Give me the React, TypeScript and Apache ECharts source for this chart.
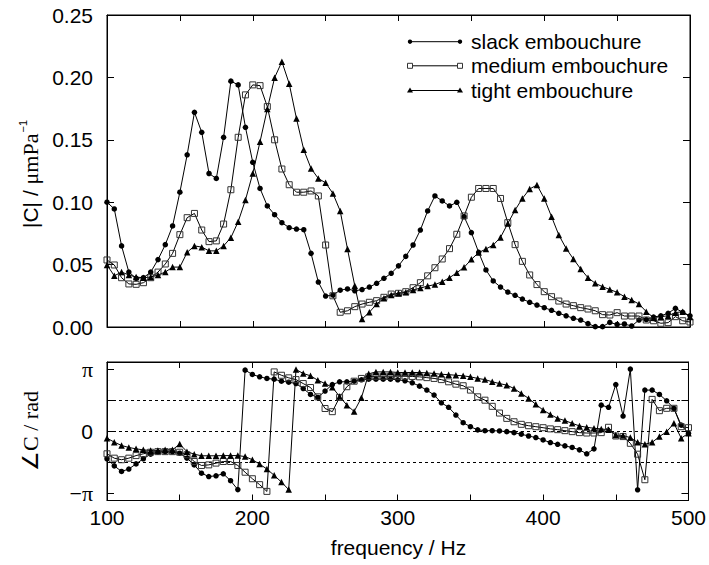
import React, { useEffect, useRef } from 'react';
import * as echarts from 'echarts';

const frequency = [
  100, 105, 110, 115, 120, 125, 130, 135, 140, 145,
  150, 155, 160, 165, 170, 175, 180, 185, 190, 195,
  200, 205, 210, 215, 220, 225, 230, 235, 240, 245,
  250, 255, 260, 265, 270, 275, 280, 285, 290, 295,
  300, 305, 310, 315, 320, 325, 330, 335, 340, 345,
  350, 355, 360, 365, 370, 375, 380, 385, 390, 395,
  400, 405, 410, 415, 420, 425, 430, 435, 440, 445,
  450, 455, 460, 465, 470, 475, 480, 485, 490, 495,
  500,
];

const slackMagnitude = [
  0.100, 0.0946, 0.065, 0.044, 0.039, 0.0395, 0.044, 0.054, 0.066, 0.081,
  0.108, 0.138, 0.172, 0.156, 0.123, 0.119, 0.152, 0.197, 0.194, 0.160,
  0.132, 0.111, 0.097, 0.090, 0.0836, 0.0796, 0.0785, 0.078, 0.059, 0.036,
  0.0248, 0.0256, 0.0295, 0.0305, 0.029, 0.030, 0.032, 0.035, 0.039, 0.043,
  0.049, 0.0566, 0.0657, 0.0777, 0.093, 0.105, 0.101, 0.097, 0.0999, 0.0884,
  0.0756, 0.0598, 0.0457, 0.0369, 0.032, 0.028, 0.0254, 0.0224, 0.0198, 0.0176,
  0.0155, 0.0134, 0.011, 0.009, 0.007, 0.0056, 0.0027, 0.0003, 0.0003, 0.0037,
  0.002, 0.0024, 0.0008, 0.0056, 0.006, 0.008, 0.009, 0.011, 0.015, 0.0118,
  0.009,
];

const mediumMagnitude = [
  0.0537, 0.0497, 0.0395, 0.0345, 0.0342, 0.0355, 0.0395, 0.044, 0.0505, 0.059,
  0.074, 0.0876, 0.091, 0.0777, 0.0684, 0.069, 0.0825, 0.110, 0.152, 0.186,
  0.194, 0.1934, 0.1766, 0.150, 0.1266, 0.114, 0.108, 0.108, 0.109, 0.105,
  0.0657, 0.025, 0.0118, 0.013, 0.0163, 0.0184, 0.0198, 0.0211, 0.0238, 0.0264,
  0.027, 0.0283, 0.0315, 0.0355, 0.041, 0.0475, 0.0545, 0.0628, 0.0743, 0.089,
  0.104, 0.111, 0.111, 0.111, 0.103, 0.0836, 0.066, 0.0526, 0.0417, 0.034,
  0.0283, 0.0243, 0.0208, 0.0184, 0.0171, 0.0155, 0.0144, 0.013, 0.0099, 0.0096,
  0.0115, 0.0088, 0.0088, 0.0088, 0.0056, 0.005, 0.003, 0.0035, 0.0083, 0.005,
  0.004,
];

const tightMagnitude = [
  0.0497, 0.041, 0.044, 0.0417, 0.040, 0.0395, 0.040, 0.0417, 0.044, 0.048,
  0.048, 0.0598, 0.065, 0.064, 0.061, 0.061, 0.065, 0.0716, 0.0844, 0.1018,
  0.123, 0.1485, 0.1747, 0.1998, 0.2126, 0.195, 0.167, 0.142, 0.127, 0.119,
  0.1155, 0.107, 0.093, 0.0625, 0.033, 0.0064, 0.0118, 0.0184, 0.023, 0.0256,
  0.027, 0.0278, 0.0296, 0.0312, 0.0328, 0.034, 0.0363, 0.0395, 0.0435, 0.0478,
  0.0542, 0.0596, 0.0625, 0.0657, 0.0718, 0.083, 0.0937, 0.103, 0.1106, 0.1138,
  0.103, 0.0884, 0.0737, 0.063, 0.0545, 0.0465, 0.0395, 0.035, 0.0323, 0.030,
  0.0278, 0.0243, 0.0216, 0.0184, 0.0123, 0.0075, 0.0083, 0.009, 0.0115, 0.0123,
  0.008,
];

// phase in radians
const slackPhase = [
  -1.39, -1.75, -2.03, -1.91, -1.65, -1.39, -1.16, -1.06, -1.03, -1.04,
  -1.11, -1.36, -1.70, -2.12, -2.29, -2.25, -2.15, -2.50, -2.95, 3.09,
  2.87, 2.75, 2.67, 2.63, 2.53, 2.48, 2.41, 2.16, 1.86, 1.71,
  2.03, 2.36, 2.50, 2.50, 2.53, 2.60, 2.63, 2.63, 2.63, 2.63,
  2.60, 2.55, 2.45, 2.28, 2.08, 1.83, 1.44, 1.21, 0.82, 0.43,
  0.23, 0.07, 0.03, 0.03, 0.015, -0.02, -0.07, -0.15, -0.24, -0.32,
  -0.44, -0.57, -0.66, -0.74, -0.82, -0.94, -1.14, -0.89, 1.32, 1.21,
  2.36, 0.77, 3.14, -2.96, 2.08, 2.08, 1.86, 1.54, 1.15, 0.31,
  -0.1,
];

const mediumPhase = [
  -1.14, -1.36, -1.44, -1.36, -1.23, -1.14, -1.06, -1.03, -1.03, -1.03,
  -1.06, -1.19, -1.53, -1.73, -1.70, -1.61, -1.53, -1.53, -1.73, -2.07,
  -2.40, -2.70, -3.04, 3.00, 2.83, 2.70, 2.61, 2.41, 2.21, 1.74,
  1.15, 0.99, 1.71, 2.25, 2.53, 2.67, 2.75, 2.78, 2.78, 2.78,
  2.78, 2.78, 2.77, 2.75, 2.71, 2.67, 2.61, 2.50, 2.38, 2.30,
  2.08, 1.74, 1.57, 1.26, 0.92, 0.65, 0.48, 0.35, 0.28, 0.23,
  0.18, 0.12, 0.08, 0.03, -0.02, -0.07, -0.09, -0.09, -0.07, 0.20,
  -0.24, -0.27, -0.61, -1.16, -2.45, 1.61, 1.04, 1.16, 1.16, 0.23,
  0.18,
];

const tightPhase = [
  -0.35, -0.55, -0.72, -0.82, -0.89, -0.94, -0.97, -0.97, -0.94, -0.94,
  -0.65, -1.03, -1.16, -1.24, -1.24, -1.24, -1.23, -1.23, -1.23, -1.28,
  -1.44, -1.66, -1.91, -2.23, -2.57, -2.95, 3.12, 2.92, 2.80, 2.58,
  2.41, 2.22, 1.76, 1.32, 1.00, 1.69, 2.90, 3.00, 3.00, 3.00,
  2.97, 2.97, 2.97, 2.97, 2.95, 2.92, 2.88, 2.86, 2.83, 2.80,
  2.75, 2.67, 2.61, 2.50, 2.41, 2.33, 2.16, 1.91, 1.66, 1.36,
  1.07, 0.85, 0.65, 0.54, 0.40, 0.27, 0.20, 0.15, 0.12, 0.07,
  -0.19, -0.22, -0.32, -0.56, -0.66, -0.56, -0.27, -0.02, 0.40, -0.35,
  -0.1,
];

const seriesNames = ['slack embouchure', 'medium embouchure', 'tight embouchure'];
const phaseTickValues = [-Math.PI, -Math.PI / 2, 0, Math.PI / 2, Math.PI];
const phaseLabelValues = [-Math.PI, 0, Math.PI];
const phaseGuideValues = [Math.PI / 2, 0, -Math.PI / 2];
const frequencyLabelValues = [100, 200, 300, 400, 500];

const SANS = 'Liberation Sans, Arial, Helvetica, sans-serif';
const SERIF = 'Liberation Serif, Times New Roman, serif';
const FS = 21;

export default function App() {
  const ref = useRef<HTMLDivElement>(null);

  useEffect(() => {
    if (!ref.current) return;
    const chart = echarts.init(ref.current, null, { renderer: 'svg' });
    const pair = (ys: number[]) => frequency.map((f, i) => [f, ys[i]]);

    const axisLine = { show: true, onZero: false, lineStyle: { color: '#000', width: 1 } };
    const xTick = { show: true, inside: true, length: 6, lineStyle: { color: '#000', width: 1 } };
    const yTick = { show: true, inside: true, length: 7, lineStyle: { color: '#000', width: 1 } };

    const xAxisBase = (gridIndex: number, position: string, labels: boolean) => ({
      type: 'value',
      gridIndex,
      position,
      min: 100,
      max: 500,
      interval: 50,
      axisLine,
      axisTick: xTick,
      splitLine: { show: false },
      axisLabel: labels
        ? {
            show: true,
            margin: 6,
            fontSize: FS,
            fontFamily: SANS,
            color: '#000',
            formatter: (v: number) => (frequencyLabelValues.includes(v) ? String(v) : ''),
          }
        : { show: false },
    });

    const magAxis = (position: string, labels: boolean) => ({
      type: 'value',
      gridIndex: 0,
      position,
      min: 0,
      max: 0.25,
      interval: 0.05,
      axisLine,
      axisTick: yTick,
      splitLine: { show: false },
      axisLabel: labels
        ? {
            show: true,
            margin: 14,
            fontSize: FS,
            fontFamily: SANS,
            color: '#000',
            formatter: (v: number) => v.toFixed(2),
          }
        : { show: false },
    });

    const phaseAxis = (position: string, labels: boolean) => ({
      type: 'value',
      gridIndex: 1,
      position,
      min: -3.5,
      max: 3.5,
      axisLine,
      axisTick: { ...yTick, customValues: phaseTickValues },
      splitLine: { show: false },
      axisLabel: labels
        ? {
            show: true,
            margin: 14,
            fontSize: FS,
            fontFamily: SANS,
            color: '#000',
            customValues: phaseLabelValues,
            formatter: (v: number) => {
              if (Math.abs(v) < 1e-6) return '0';
              return v > 0 ? '{p|π}' : '{p|−π}';
            },
            rich: { p: { fontFamily: SERIF, fontSize: 22, color: '#000' } },
          }
        : { show: false },
    });

    const lineCommon = {
      type: 'line',
      showAllSymbol: true,
      lineStyle: { color: '#000', width: 1 },
      emphasis: { disabled: true },
      silent: true,
      z: 3,
    };
    const styles = [
      { symbol: 'circle', symbolSize: 5.5, itemStyle: { color: '#000', borderWidth: 0 } },
      {
        symbol: 'rect',
        symbolSize: 6,
        itemStyle: { color: 'rgba(255,255,255,0)', borderColor: '#333', borderWidth: 1 },
      },
      { symbol: 'triangle', symbolSize: 6.5, itemStyle: { color: '#000', borderWidth: 0 } },
    ];
    const mags = [slackMagnitude, mediumMagnitude, tightMagnitude];
    const phases = [slackPhase, mediumPhase, tightPhase];

    const series: any[] = [];
    mags.forEach((m, i) => {
      series.push({ ...lineCommon, ...styles[i], name: seriesNames[i], xAxisIndex: 0, yAxisIndex: 0, data: pair(m) });
    });
    phases.forEach((p, i) => {
      const s: any = { ...lineCommon, ...styles[i], name: seriesNames[i] + ' phase', xAxisIndex: 2, yAxisIndex: 2, data: pair(p) };
      if (i === 0) {
        s.markLine = {
          silent: true,
          symbol: ['none', 'none'],
          label: { show: false },
          lineStyle: { color: '#000', width: 1, type: [3, 3] },
          emphasis: { disabled: true },
          data: phaseGuideValues.map((v) => ({ yAxis: v })),
          z: 1,
        };
      }
      series.push(s);
    });

    // legend drawn as graphic (line with a symbol at each end, as in the reference)
    const legendY = [41.7, 65.8, 90.5];
    const lx1 = 410;
    const lx2 = 460;
    const legendGraphics: any[] = [];
    legendY.forEach((y, i) => {
      legendGraphics.push({ type: 'line', shape: { x1: lx1, y1: y, x2: lx2, y2: y }, style: { stroke: '#000', lineWidth: 1 } });
      [lx1, lx2].forEach((cx) => {
        if (i === 0) {
          legendGraphics.push({ type: 'circle', shape: { cx, cy: y, r: 2.2 }, style: { fill: '#000' } });
        } else if (i === 1) {
          legendGraphics.push({ type: 'rect', shape: { x: cx - 2.5, y: y - 2.5, width: 5, height: 5 }, style: { fill: '#fff', stroke: '#333', lineWidth: 1 } });
        } else {
          legendGraphics.push({ type: 'polygon', shape: { points: [[cx, y - 3], [cx - 3, y + 2], [cx + 3, y + 2]] }, style: { fill: '#000' } });
        }
      });
      legendGraphics.push({
        type: 'text',
        x: 471,
        y,
        style: { text: seriesNames[i], fontSize: FS, fontFamily: SANS, fill: '#000', textAlign: 'left', textVerticalAlign: 'middle' },
      });
    });

    const option: any = {
      animation: false,
      backgroundColor: '#fff',
      grid: [
        { left: 107, top: 15, width: 583, height: 312, show: true, borderColor: '#000', borderWidth: 1, containLabel: false },
        { left: 107, top: 362, width: 583, height: 138.5, show: true, borderColor: '#000', borderWidth: 1, containLabel: false },
      ],
      xAxis: [
        xAxisBase(0, 'bottom', false),
        xAxisBase(0, 'top', false),
        xAxisBase(1, 'bottom', true),
        xAxisBase(1, 'top', false),
      ],
      yAxis: [magAxis('left', true), magAxis('right', false), phaseAxis('left', true), phaseAxis('right', false)],
      series,
      graphic: [
        ...legendGraphics,
        {
          type: 'text',
          x: 398.5,
          y: 547,
          style: { text: 'frequency / Hz', fontSize: FS, fontFamily: SANS, fill: '#000', textAlign: 'center', textVerticalAlign: 'middle' },
        },
        {
          type: 'text',
          x: 30,
          y: 174,
          rotation: Math.PI / 2,
          style: {
            text: '{s||C| / }{m|μmPa}{e|−1}',
            textAlign: 'center',
            textVerticalAlign: 'middle',
            rich: {
              s: { fontFamily: SANS, fontSize: FS, fill: '#000', color: '#000' },
              m: { fontFamily: SERIF, fontSize: 22, fill: '#000', color: '#000' },
              e: { fontFamily: SANS, fontSize: 11, fill: '#000', color: '#000', padding: [0, 0, 14, 1] },
            },
          },
        },
        {
          type: 'text',
          x: 30,
          y: 431,
          rotation: Math.PI / 2,
          style: {
            text: '∠C / rad',
            fontFamily: SERIF,
            fontSize: 22,
            fill: '#000',
            textAlign: 'center',
            textVerticalAlign: 'middle',
          },
        },
      ],
    };

    chart.setOption(option);
    return () => chart.dispose();
  }, []);

  return (
    <div
      ref={ref}
      style={{ position: 'fixed', left: 0, top: 0, width: 709, height: 565, background: '#fff' }}
    />
  );
}
